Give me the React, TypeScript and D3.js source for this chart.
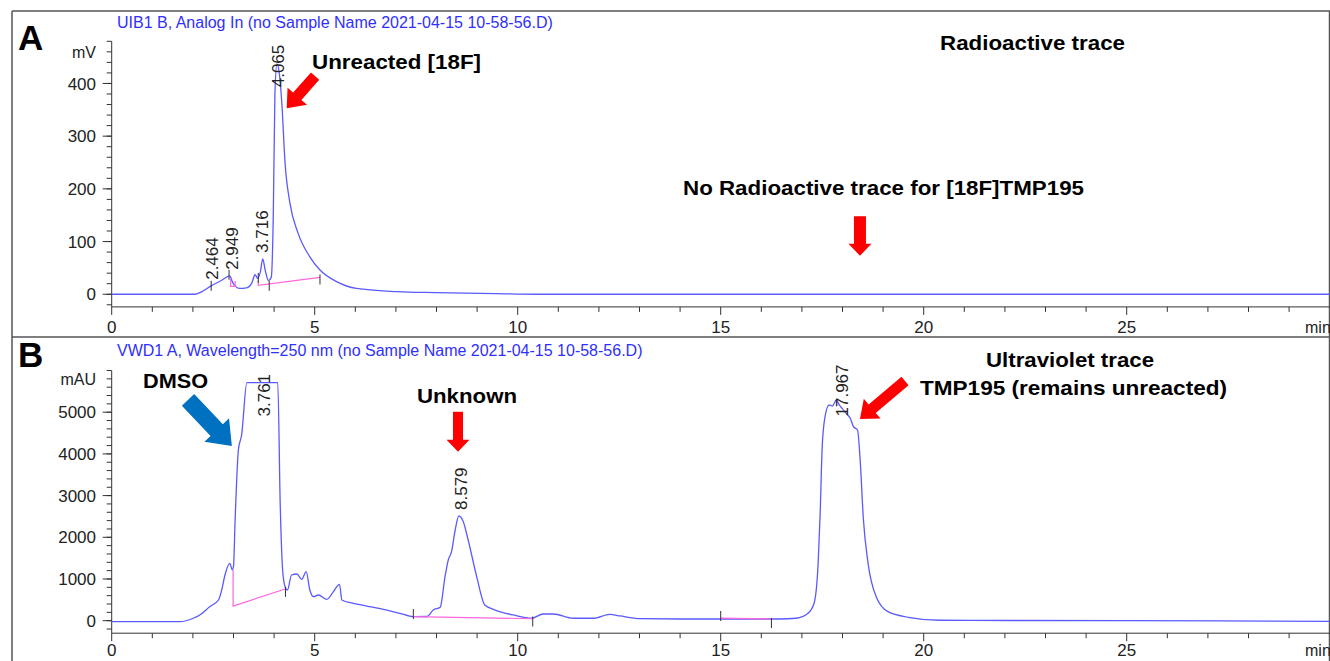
import React from "react";
import * as d3 from "d3";

// ---- data (time in min, signal value) ----
const radioTrace: [number, number][] = [
  [0, 0], [2.05, 0], [2.2, 4], [2.45, 16], [2.7, 26], [2.91, 35], [2.97, 24],
  [3.05, 15], [3.15, 11], [3.32, 12], [3.45, 21], [3.53, 37], [3.6, 30],
  [3.66, 42], [3.72, 67], [3.78, 46], [3.86, 26], [3.93, 32], [3.98, 150],
  [4.02, 380], [4.07, 437], [4.13, 418], [4.19, 363], [4.27, 249], [4.39, 173],
  [4.59, 116], [4.88, 71], [5.13, 46], [5.54, 24], [6.03, 11], [7.02, 5],
  [8.0, 3], [9.5, 1], [10.5, 0], [30, 0],
];

const uvTrace: [number, number][] = [
  [0, -24], [1.68, -24], [2.01, 58], [2.17, 137], [2.42, 340], [2.63, 496],
  [2.71, 736], [2.79, 1096], [2.91, 1376], [2.97, 1216], [3.0, 1300],
  [3.04, 2415], [3.12, 4094], [3.2, 4453], [3.33, 5707], [4.09, 5707],
  [4.15, 2815], [4.21, 1216], [4.27, 815], [4.33, 736], [4.43, 1096],
  [4.56, 1120], [4.68, 992], [4.79, 1176], [4.88, 736], [4.97, 576],
  [5.09, 616], [5.3, 513], [5.46, 696], [5.61, 873], [5.67, 496], [5.95, 417],
  [6.28, 352], [6.69, 273], [7.1, 177], [7.43, 96], [7.76, 100], [7.92, 257],
  [8.09, 321], [8.21, 1056], [8.29, 1456], [8.37, 1655], [8.46, 2175],
  [8.55, 2511], [8.66, 2375], [8.78, 1935], [8.99, 1056], [9.19, 377],
  [9.4, 273], [9.89, 137], [10.34, 58], [10.63, 161], [10.88, 161],
  [11.37, 58], [11.86, 58], [12.27, 153], [12.52, 113], [13.01, 48], [14, 40],
  [16.46, 40], [16.86, 58], [17.15, 177], [17.3, 417], [17.4, 1376],
  [17.45, 2575], [17.5, 4173], [17.57, 4892], [17.67, 5173], [17.75, 5149],
  [17.85, 5293], [17.92, 5173], [17.99, 5093], [18.09, 4973], [18.19, 4853],
  [18.27, 4653], [18.37, 4573], [18.44, 3774], [18.51, 2494], [18.63, 1376],
  [18.83, 576], [19.12, 216], [19.62, 82], [20.4, 10], [25, 0], [30, -15],
];

// retention time labels: [label, time, peak value]
const radioPeaks: [string, number, number][] = [
  ["2.464", 2.46, 16], ["2.949", 2.96, 35], ["3.716", 3.69, 67], ["4.065", 4.1, 437],
];
const uvPeaks: [string, number, number][] = [
  ["3.761", 3.76, 5707], ["8.579", 8.59, 2511], ["17.967", 17.98, 5293],
];

// integration baselines (pink)
const radioBaselines: [number, number][][] = [
  [[2.93, 31], [2.93, 15], [3.04, 15], [3.04, 25]],
  [[3.61, 26], [3.61, 17], [5.13, 32]],
];
const uvBaselines: [number, number][][] = [
  [[2.99, 1210], [2.99, 350], [4.27, 760]],
  [[7.43, 98], [10.37, 48]],
  [[15.0, 60], [16.25, 40]],
];

// peak start/end markers
const radioMarks: [number, number][] = [[2.45, 16], [2.89, 37], [3.61, 31], [3.88, 16], [5.13, 28]];
const uvMarks: [number, number][] = [[4.28, 690], [7.43, 160], [10.37, -20], [15.0, 113], [16.25, -55]];

const radioTicks = [0, 100, 200, 300, 400];
const uvTicks = [0, 1000, 2000, 3000, 4000, 5000];
const timeTicks = [0, 5, 10, 15, 20, 25];

const W = 1330;
const H = 661;
const FONT = "'Liberation Sans', Arial, sans-serif";
const TRACE = "#5a5aff";
const PINK = "#ff66dd";
const AXIS = "#333";

const x = d3.scaleLinear().domain([0, 30]).range([111.7, 1329.7]);
const yA = d3.scaleLinear().domain([-24, 480]).range([306.9, 41.3]);
const yB = d3.scaleLinear().domain([-300, 6000]).range([633.2, 370.5]);

function Arrow({ from, to, shaft, head, headLen, color }: any) {
  const [x1, y1] = from;
  const [x2, y2] = to;
  const dx = x2 - x1, dy = y2 - y1;
  const len = Math.hypot(dx, dy);
  const ux = dx / len, uy = dy / len;
  const nx = -uy, ny = ux;
  const bx = x2 - ux * headLen, by = y2 - uy * headLen;
  const pts = [
    [x1 + nx * shaft / 2, y1 + ny * shaft / 2],
    [bx + nx * shaft / 2, by + ny * shaft / 2],
    [bx + nx * head / 2, by + ny * head / 2],
    [x2, y2],
    [bx - nx * head / 2, by - ny * head / 2],
    [bx - nx * shaft / 2, by - ny * shaft / 2],
    [x1 - nx * shaft / 2, y1 - ny * shaft / 2],
  ];
  return <polygon points={pts.map((p) => p.join(",")).join(" ")} fill={color} />;
}

function Panel({ y, trace, peaks, baselines, marks, ticks, minorStep, unit, unitValue, title, titleY, letter, letterY, labelGap }: any) {
  const [bottom, top] = y.range();
  const line = d3.line<[number, number]>().x((d) => x(d[0])).y((d) => y(d[1])).curve(d3.curveMonotoneX);
  const lin = d3.line<[number, number]>().x((d) => x(d[0])).y((d) => y(d[1]));
  const [vMin, vMax] = y.domain();
  const minor = d3.range(Math.ceil(vMin / minorStep) * minorStep, vMax + 0.001, minorStep);
  const minutes = d3.range(0, 30, 1);
  const labelTop = top + 46;
  return (
    <g>
      <text x={18} y={letterY} fontFamily={FONT} fontWeight="bold" fontSize={35} fill="#000">{letter}</text>
      <text x={117} y={titleY} fontFamily={FONT} fontSize={16} fill="#2f2fff">{title}</text>
      {/* y axis */}
      <line x1={x(0)} x2={x(0)} y1={top} y2={bottom} stroke={AXIS} />
      {minor.map((v: number) => (
        <line key={"m" + v} x1={x(0) - 5} x2={x(0)} y1={y(v)} y2={y(v)} stroke={AXIS} />
      ))}
      {ticks.map((v: number) => (
        <g key={"t" + v}>
          <line x1={x(0) - 9} x2={x(0)} y1={y(v)} y2={y(v)} stroke={AXIS} />
          <text x={96} y={y(v)} dy="0.36em" textAnchor="end" fontFamily={FONT} fontSize={17} fill="#222">{v}</text>
        </g>
      ))}
      <text x={96} y={y(unitValue)} dy="0.36em" textAnchor="end" fontFamily={FONT} fontSize={16} fill="#222">{unit}</text>
      {/* x axis */}
      <line x1={x(0)} x2={W} y1={bottom} y2={bottom} stroke={AXIS} />
      {minutes.map((t: number) => (
        <line key={"xm" + t} x1={x(t)} x2={x(t)} y1={bottom} y2={bottom + (t % 5 === 0 ? 8 : 5)} stroke={AXIS} />
      ))}
      {timeTicks.map((t) => (
        <text key={"xl" + t} x={x(t)} y={bottom + labelGap} textAnchor="middle" fontFamily={FONT} fontSize={17} fill="#222">{t}</text>
      ))}
      <text x={1305} y={bottom + labelGap} fontFamily={FONT} fontSize={16} fill="#222">min</text>
      {/* trace */}
      <path d={line(trace) || ""} fill="none" stroke={TRACE} strokeWidth={1.3} />
      {baselines.map((b: [number, number][], i: number) => (
        <path key={"b" + i} d={lin(b) || ""} fill="none" stroke={PINK} strokeWidth={1.2} />
      ))}
      {marks.map((m: [number, number], i: number) => (
        <line key={"k" + i} x1={x(m[0])} x2={x(m[0])} y1={y(m[1]) - 5} y2={y(m[1]) + 5} stroke="#333" />
      ))}
      {peaks.map(([lab, t, v]: [string, number, number]) => {
        const ly = Math.max(y(v) - 6, labelTop);
        return (
          <text key={lab} transform={`translate(${x(t)},${ly}) rotate(-90)`} dy="0.36em" fontFamily={FONT} fontSize={17} fill="#222">{lab}</text>
        );
      })}
    </g>
  );
}

const bold = { fontFamily: FONT, fontWeight: "bold", fontSize: 21, fill: "#000" } as any;

export default function App() {
  return (
    <svg width={W} height={H} style={{ position: "absolute", left: 0, top: 0, background: "#fff" }}>
      <rect x={0} y={0} width={W} height={H} fill="#fff" />
      {/* frame */}
      <line x1={12} x2={W} y1={11} y2={11} stroke="#555" strokeWidth={1.5} />
      <line x1={12} x2={12} y1={11} y2={H} stroke="#555" strokeWidth={1.5} />
      <line x1={W - 0.5} x2={W - 0.5} y1={11} y2={H} stroke="#555" strokeWidth={1.5} />
      <line x1={12} x2={W} y1={337} y2={337} stroke="#555" strokeWidth={1.5} />

      <Panel y={yA} trace={radioTrace} peaks={radioPeaks} baselines={radioBaselines} marks={radioMarks}
        ticks={radioTicks} minorStep={20} unit="mV" unitValue={460} labelGap={26}
        title="UIB1 B, Analog In (no Sample Name 2021-04-15 10-58-56.D)" titleY={28} letter="A" letterY={50} />
      <Panel y={yB} trace={uvTrace} peaks={uvPeaks} baselines={uvBaselines} marks={uvMarks}
        ticks={uvTicks} minorStep={200} unit="mAU" unitValue={5800} labelGap={23}
        title="VWD1 A, Wavelength=250 nm (no Sample Name 2021-04-15 10-58-56.D)" titleY={356} letter="B" letterY={367} />

      {/* annotations, panel A */}
      <text x={312} y={69} {...bold} textLength={169} lengthAdjust="spacingAndGlyphs">Unreacted  [18F]</text>
      <Arrow from={[x(5.01), yA(414)]} to={[x(4.31), yA(353)]} shaft={11} head={26} headLen={16} color="#ff0000" />
      <text x={940} y={50} {...bold} textLength={185} lengthAdjust="spacingAndGlyphs">Radioactive trace</text>
      <text x={683} y={195} {...bold} textLength={401} lengthAdjust="spacingAndGlyphs">No Radioactive trace for [18F]TMP195</text>
      <Arrow from={[x(18.43), yA(148)]} to={[x(18.43), yA(73)]} shaft={12} head={23} headLen={12} color="#ff0000" />

      {/* annotations, panel B */}
      <text x={143} y={388} {...bold} textLength={65} lengthAdjust="spacingAndGlyphs">DMSO</text>
      <Arrow from={[x(1.88), yB(5293)]} to={[x(2.96), yB(4189)]} shaft={17} head={34} headLen={22} color="#0070c0" />
      <text x={417} y={403} {...bold} textLength={100} lengthAdjust="spacingAndGlyphs">Unknown</text>
      <Arrow from={[x(8.53), yB(5012)]} to={[x(8.53), yB(4053)]} shaft={10} head={23} headLen={12} color="#ff0000" />
      <text x={986} y={367} {...bold} textLength={168} lengthAdjust="spacingAndGlyphs">Ultraviolet trace</text>
      <text x={920} y={395} {...bold} textLength={307} lengthAdjust="spacingAndGlyphs">TMP195 (remains unreacted)</text>
      <Arrow from={[x(19.54), yB(5748)]} to={[x(18.43), yB(4837)]} shaft={11} head={26} headLen={16} color="#ff0000" />
    </svg>
  );
}
